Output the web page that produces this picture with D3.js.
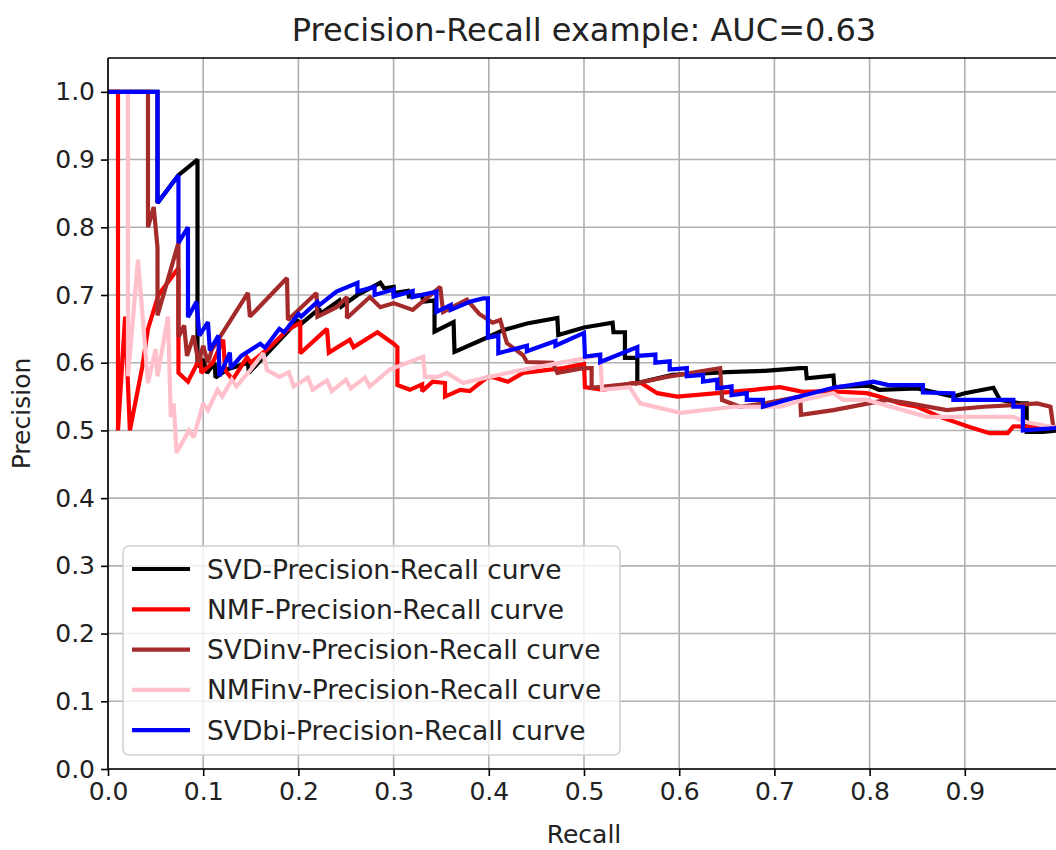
<!DOCTYPE html>
<html>
<head>
<meta charset="utf-8">
<script src="https://cdn.jsdelivr.net/npm/d3@7"></script>
<style>
body{margin:0;background:#fff;}
text{font-family:"DejaVu Sans",sans-serif;fill:#222;}
</style>
</head>
<body>
<svg id="chart" width="1056" height="850"></svg>
<script>
const titleText = "Precision-Recall example: AUC=0.63";
const xLabel = "Recall";
const yLabel = "Precision";
const xTicks = [0,0.1,0.2,0.3,0.4,0.5,0.6,0.7,0.8,0.9];
const yTicks = [0,0.1,0.2,0.3,0.4,0.5,0.6,0.7,0.8,0.9,1.0];
const seriesNames = ["SVD-Precision-Recall curve","NMF-Precision-Recall curve","SVDinv-Precision-Recall curve","NMFinv-Precision-Recall curve","SVDbi-Precision-Recall curve"];
const seriesColors = ["#000000","#ff0000","#a52a2a","#ffc0cb","#0000ff"];

// [recall, precision]
const svd = [[0,1.0],[0.052,1.0],[0.052,0.836],[0.074,0.877],[0.094,0.9],[0.094,0.594],[0.1,0.605],[0.104,0.585],[0.112,0.6],[0.113,0.578],[0.125,0.59],[0.147,0.6],[0.148,0.585],[0.17,0.618],[0.2,0.663],[0.201,0.655],[0.222,0.68],[0.223,0.672],[0.243,0.692],[0.245,0.683],[0.262,0.7],[0.286,0.718],[0.29,0.71],[0.3,0.712],[0.3,0.703],[0.315,0.706],[0.316,0.698],[0.33,0.7],[0.331,0.69],[0.343,0.692],[0.343,0.646],[0.363,0.66],[0.364,0.616],[0.39,0.632],[0.415,0.648],[0.44,0.658],[0.472,0.666],[0.473,0.641],[0.5,0.652],[0.517,0.656],[0.53,0.659],[0.531,0.645],[0.543,0.645],[0.543,0.607],[0.556,0.607],[0.556,0.57],[0.593,0.582],[0.62,0.584],[0.65,0.586],[0.69,0.588],[0.727,0.592],[0.733,0.592],[0.734,0.577],[0.762,0.581],[0.763,0.564],[0.8,0.566],[0.81,0.56],[0.85,0.562],[0.888,0.55],[0.9,0.555],[0.93,0.563],[0.937,0.545],[0.958,0.54],[0.965,0.54],[0.965,0.498],[0.982,0.498],[1.0,0.5]];
const nmf = [[0,1.0],[0.0105,1.0],[0.0105,0.5],[0.018,0.668],[0.023,0.5],[0.036,0.594],[0.042,0.65],[0.053,0.7],[0.074,0.74],[0.074,0.585],[0.084,0.572],[0.097,0.608],[0.098,0.585],[0.11,0.6],[0.121,0.634],[0.123,0.589],[0.131,0.575],[0.146,0.608],[0.15,0.6],[0.17,0.623],[0.188,0.648],[0.202,0.659],[0.202,0.614],[0.23,0.65],[0.232,0.615],[0.254,0.634],[0.258,0.623],[0.283,0.645],[0.29,0.638],[0.3,0.628],[0.304,0.623],[0.304,0.567],[0.317,0.56],[0.33,0.568],[0.33,0.558],[0.341,0.572],[0.354,0.57],[0.354,0.55],[0.37,0.56],[0.38,0.558],[0.398,0.578],[0.404,0.579],[0.42,0.572],[0.436,0.585],[0.478,0.592],[0.5,0.598],[0.501,0.564],[0.52,0.56],[0.551,0.57],[0.56,0.57],[0.577,0.555],[0.598,0.55],[0.64,0.555],[0.678,0.56],[0.706,0.564],[0.73,0.557],[0.755,0.558],[0.797,0.555],[0.81,0.55],[0.832,0.54],[0.85,0.535],[0.874,0.52],[0.905,0.505],[0.926,0.496],[0.945,0.496],[0.951,0.506],[1.0,0.504]];
const svdInv = [[0,1.0],[0.042,1.0],[0.042,0.80],[0.048,0.83],[0.052,0.77],[0.052,0.67],[0.074,0.777],[0.074,0.638],[0.08,0.655],[0.083,0.61],[0.09,0.64],[0.095,0.6],[0.1,0.625],[0.105,0.6],[0.109,0.619],[0.147,0.703],[0.149,0.668],[0.188,0.725],[0.189,0.663],[0.219,0.703],[0.22,0.668],[0.24,0.682],[0.251,0.697],[0.251,0.666],[0.275,0.697],[0.286,0.682],[0.3,0.688],[0.32,0.678],[0.349,0.712],[0.352,0.675],[0.377,0.693],[0.39,0.672],[0.404,0.659],[0.412,0.663],[0.419,0.629],[0.436,0.611],[0.44,0.601],[0.467,0.6],[0.472,0.585],[0.499,0.592],[0.508,0.592],[0.508,0.563],[0.556,0.57],[0.587,0.579],[0.643,0.592],[0.645,0.545],[0.664,0.535],[0.69,0.54],[0.727,0.55],[0.728,0.523],[0.762,0.53],[0.818,0.545],[0.842,0.54],[0.881,0.53],[0.92,0.535],[0.958,0.538],[0.976,0.54],[0.99,0.535],[0.993,0.505],[1.0,0.505]];
const nmfInv = [[0,1.0],[0.021,1.0],[0.021,0.58],[0.0315,0.752],[0.042,0.57],[0.05,0.62],[0.052,0.58],[0.063,0.668],[0.066,0.52],[0.069,0.54],[0.072,0.467],[0.085,0.5],[0.09,0.49],[0.1,0.54],[0.105,0.53],[0.115,0.56],[0.12,0.55],[0.13,0.575],[0.135,0.565],[0.15,0.59],[0.163,0.614],[0.167,0.589],[0.18,0.579],[0.19,0.586],[0.195,0.565],[0.21,0.578],[0.215,0.56],[0.23,0.574],[0.235,0.558],[0.25,0.575],[0.255,0.562],[0.27,0.578],[0.275,0.565],[0.296,0.59],[0.331,0.609],[0.333,0.579],[0.346,0.579],[0.356,0.585],[0.373,0.57],[0.388,0.575],[0.43,0.588],[0.475,0.6],[0.517,0.611],[0.519,0.56],[0.548,0.564],[0.559,0.54],[0.601,0.526],[0.657,0.535],[0.706,0.535],[0.73,0.545],[0.762,0.555],[0.772,0.545],[0.797,0.545],[0.86,0.52],[0.951,0.52],[0.965,0.512],[1.0,0.503]];
const svdBi = [[0,1.0],[0.052,1.0],[0.052,0.836],[0.074,0.877],[0.074,0.777],[0.084,0.80],[0.084,0.667],[0.093,0.69],[0.096,0.64],[0.105,0.66],[0.107,0.618],[0.116,0.64],[0.117,0.58],[0.128,0.615],[0.129,0.592],[0.14,0.61],[0.16,0.628],[0.165,0.622],[0.18,0.65],[0.185,0.645],[0.2,0.672],[0.203,0.668],[0.22,0.69],[0.222,0.685],[0.24,0.705],[0.262,0.718],[0.262,0.705],[0.28,0.712],[0.28,0.7],[0.3,0.708],[0.3,0.698],[0.32,0.706],[0.32,0.697],[0.345,0.705],[0.345,0.675],[0.36,0.685],[0.36,0.678],[0.38,0.69],[0.394,0.695],[0.399,0.695],[0.399,0.637],[0.41,0.64],[0.41,0.614],[0.44,0.625],[0.44,0.617],[0.47,0.632],[0.47,0.625],[0.5,0.644],[0.501,0.609],[0.517,0.612],[0.517,0.601],[0.556,0.623],[0.556,0.61],[0.575,0.612],[0.575,0.6],[0.59,0.602],[0.59,0.59],[0.608,0.592],[0.608,0.58],[0.625,0.582],[0.625,0.572],[0.64,0.575],[0.64,0.562],[0.655,0.565],[0.655,0.552],[0.671,0.555],[0.671,0.545],[0.688,0.545],[0.688,0.535],[0.72,0.548],[0.762,0.563],[0.804,0.572],[0.82,0.567],[0.856,0.567],[0.856,0.556],[0.888,0.555],[0.888,0.545],[0.92,0.545],[0.951,0.545],[0.951,0.535],[0.961,0.535],[0.961,0.5],[1.0,0.504]];
const seriesData = [svd, nmf, svdInv, nmfInv, svdBi];

const svg = d3.select("#chart");
const L = 108, R = 1060, T = 58, B = 769;
const x = d3.scaleLinear().domain([0,1]).range([L,R]);
const y = d3.scaleLinear().domain([0,1.05]).range([B,T]);

svg.append("rect").attr("width",1056).attr("height",850).attr("fill","#fff");

// grid
const grid = svg.append("g");
grid.selectAll(".gx").data(xTicks).join("line")
  .attr("x1",d=>x(d)).attr("x2",d=>x(d)).attr("y1",T).attr("y2",B)
  .attr("stroke","#b0b0b0").attr("stroke-width",1.6);
grid.selectAll(".gy").data(yTicks).join("line")
  .attr("x1",L).attr("x2",R).attr("y1",d=>y(d)).attr("y2",d=>y(d))
  .attr("stroke","#b0b0b0").attr("stroke-width",1.6);

svg.append("defs").append("clipPath").attr("id","clip")
  .append("rect").attr("x",L).attr("y",T).attr("width",R-L).attr("height",B-T);

const line = d3.line().x(d=>x(d[0])).y(d=>y(d[1]));
const plot = svg.append("g").attr("clip-path","url(#clip)");
seriesData.forEach((s,i)=>{
  plot.append("path").datum(s).attr("d",line)
    .attr("fill","none").attr("stroke",seriesColors[i])
    .attr("stroke-width",4.2).attr("stroke-linejoin","miter").attr("stroke-miterlimit",2);
});

// axes
const xAxis = d3.axisBottom(x).tickValues(xTicks).tickFormat(d3.format(".1f")).tickSize(7).tickPadding(6);
const yAxis = d3.axisLeft(y).tickValues(yTicks).tickFormat(d3.format(".1f")).tickSize(7).tickPadding(6);
const gx = svg.append("g").attr("transform",`translate(0,${B})`).call(xAxis);
const gy = svg.append("g").attr("transform",`translate(${L},0)`).call(yAxis);
[gx,gy].forEach(g=>{
  g.select(".domain").remove();
  g.selectAll(".tick line").attr("stroke","#000").attr("stroke-width",1.6);
  g.selectAll(".tick text").attr("font-size",25).attr("fill","#222").attr("font-family","DejaVu Sans");
});
// spines
svg.append("line").attr("x1",L).attr("x2",R).attr("y1",B).attr("y2",B).attr("stroke","#000").attr("stroke-width",1.6);
svg.append("line").attr("x1",L).attr("x2",L).attr("y1",T).attr("y2",B).attr("stroke","#000").attr("stroke-width",1.6);
svg.append("line").attr("x1",L).attr("x2",R).attr("y1",T).attr("y2",T).attr("stroke","#000").attr("stroke-width",1.6);

// title and labels
svg.append("text").attr("x",(L+R)/2).attr("y",41).attr("text-anchor","middle")
  .attr("font-size",32).text(titleText);
svg.append("text").attr("x",(L+R)/2).attr("y",843).attr("text-anchor","middle")
  .attr("font-size",25).text(xLabel);
svg.append("text").attr("transform",`translate(30,${(T+B)/2}) rotate(-90)`).attr("text-anchor","middle")
  .attr("font-size",25).text(yLabel);

// legend
const lg = svg.append("g");
lg.append("rect").attr("x",123).attr("y",546).attr("width",497).attr("height",209)
  .attr("rx",6).attr("fill","#fff").attr("fill-opacity",0.8).attr("stroke","#d0d0d0").attr("stroke-width",1.5);
seriesNames.forEach((n,i)=>{
  const yy = 569 + i*40.3;
  lg.append("line").attr("x1",132).attr("x2",190).attr("y1",yy).attr("y2",yy)
    .attr("stroke",seriesColors[i]).attr("stroke-width",4.2);
  lg.append("text").attr("x",207).attr("y",yy+9.5).attr("font-size",26.5).text(n);
});
</script>
</body>
</html>
